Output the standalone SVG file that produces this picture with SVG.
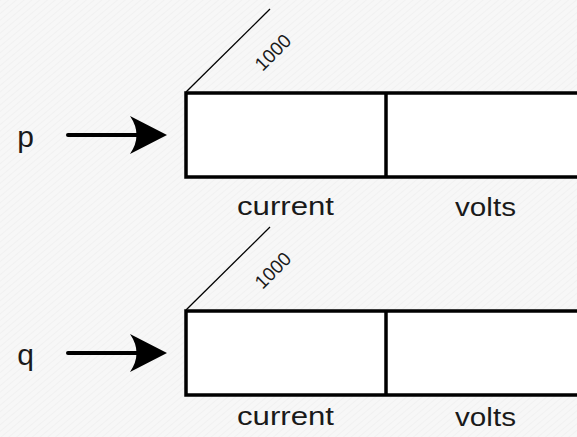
<svg xmlns="http://www.w3.org/2000/svg" width="577" height="437" viewBox="0 0 577 437">
<defs>
<pattern id="tex" width="5" height="5" patternUnits="userSpaceOnUse" patternTransform="rotate(-40)">
<rect width="5" height="5" fill="#f7f7f7"/>
<line x1="0" y1="0" x2="5" y2="0" stroke="#efefef" stroke-width="1.5"/>
</pattern>
<marker id="ah" markerUnits="userSpaceOnUse" markerWidth="40" markerHeight="40" viewBox="0 0 40 40" refX="7" refY="19" orient="auto">
<path d="M37,19 L0,0 Q13,19 0,38 Z" fill="#000"/>
</marker>
</defs>
<style>
.cell{fill:#fff;stroke:#000;stroke-width:3.5}
.div{stroke:#000;stroke-width:3.5}
.diag{stroke:#000;stroke-width:1.3}
.lbl{font-family:"Liberation Sans",Arial,sans-serif;font-size:26px;fill:#1a1a1a}
.var{font-family:"Liberation Sans",Arial,sans-serif;font-size:30px;fill:#1a1a1a}
.num{font-family:"Liberation Sans",Arial,sans-serif;font-size:19px;fill:#1a1a1a}
.arr{stroke:#000;stroke-width:4;fill:none;stroke-linecap:round}
</style>
<rect width="577" height="437" fill="url(#tex)"/>

<g id="struct-p">
<rect class="cell" x="186" y="93" width="420" height="84"/>
<line class="div" x1="386" y1="93" x2="386" y2="177"/>
<line class="diag" x1="186" y1="92" x2="270" y2="9"/>
<text class="num" x="272.5" y="59" text-anchor="middle" transform="rotate(-45 272.5 52)">1000</text>
<text class="lbl" x="285.5" y="215" text-anchor="middle" textLength="97" lengthAdjust="spacingAndGlyphs">current</text>
<text class="lbl" x="485.5" y="216" text-anchor="middle" textLength="61" lengthAdjust="spacingAndGlyphs">volts</text>
</g>

<g id="struct-q">
<rect class="cell" x="186" y="311" width="420" height="84"/>
<line class="div" x1="386" y1="311" x2="386" y2="395"/>
<line class="diag" x1="186" y1="310" x2="270" y2="227"/>
<text class="num" x="272.5" y="277" text-anchor="middle" transform="rotate(-45 272.5 270)">1000</text>
<text class="lbl" x="285.5" y="425" text-anchor="middle" textLength="97" lengthAdjust="spacingAndGlyphs">current</text>
<text class="lbl" x="485.5" y="426" text-anchor="middle" textLength="61" lengthAdjust="spacingAndGlyphs">volts</text>
</g>

<g id="var-p"><text class="var" x="25.5" y="147" text-anchor="middle">p</text></g>
<g id="var-q"><text class="var" x="25.5" y="365" text-anchor="middle">q</text></g>

<g id="connectors">
<line class="arr" x1="68" y1="135" x2="137" y2="135" marker-end="url(#ah)"/>
<line class="arr" x1="68" y1="353" x2="137" y2="353" marker-end="url(#ah)"/>
</g>
</svg>
